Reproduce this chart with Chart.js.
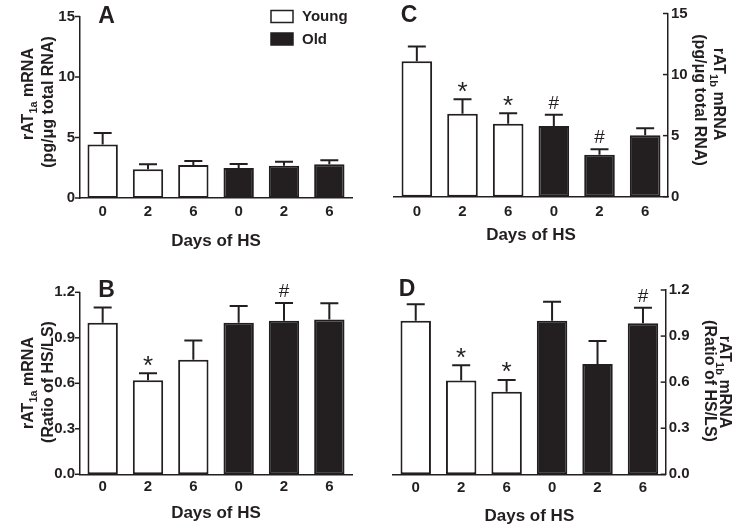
<!DOCTYPE html>
<html>
<head>
<meta charset="utf-8">
<script src="https://cdn.jsdelivr.net/npm/chart.js@4.4.1/dist/chart.umd.min.js"></script>
<style>
  html, body { margin: 0; padding: 0; background: #fff; }
  #wrap { position: relative; width: 746px; height: 529px; }
  canvas { position: absolute; }
</style>
</head>
<body>
<div id="wrap">
  <canvas id="panelA" width="373" height="265" style="left:0;top:0"></canvas>
  <canvas id="panelC" width="373" height="265" style="left:373px;top:0"></canvas>
  <canvas id="panelB" width="373" height="264" style="left:0;top:265px"></canvas>
  <canvas id="panelD" width="373" height="264" style="left:373px;top:265px"></canvas>
</div>
<script>
// categories
const days = ['0', '2', '6', '0', '2', '6'];
const ageGroup = ['Young', 'Young', 'Young', 'Old', 'Old', 'Old'];

// A: rAT1a mRNA (pg/ug total RNA), mean and SEM
const aMean = [4.42, 2.37, 2.72, 2.47, 2.66, 2.78];
const aSem = [0.96, 0.41, 0.33, 0.33, 0.33, 0.35];
const aMarks = ['', '', '', '', '', ''];

// C: rAT1b mRNA (pg/ug total RNA)
const cMean = [11.1, 6.8, 5.98, 5.79, 3.44, 5.03];
const cSem = [1.2, 1.18, 0.85, 0.91, 0.44, 0.57];
const cMarks = ['', '*', '*', '#', '#', ''];

// B: rAT1a mRNA (ratio of HS/LS)
const bMean = [1.0, 0.62, 0.755, 1.0, 1.013, 1.02];
const bSem = [0.10, 0.046, 0.128, 0.11, 0.117, 0.107];
const bMarks = ['', '*', '', '', '#', ''];

// D: rAT1b mRNA (ratio of HS/LS)
const dMean = [1.0, 0.61, 0.538, 1.0, 0.718, 0.983];
const dSem = [0.107, 0.10, 0.076, 0.124, 0.15, 0.102];
const dMarks = ['', '*', '*', '', '', '#'];

// tick labels
const amountTicks = [0, 5, 10, 15];
const ratioTicks = [0, 0.3, 0.6, 0.9, 1.2];

const FONT = "'Liberation Sans', Arial, Helvetica, sans-serif";
const INK = '#231f20';

// draws a line of text with a subscript part, centred on (0,0)
function drawSubText(ctx, parts) {
  let w = 0;
  parts.forEach(p => {
    ctx.font = 'bold ' + p.size + 'px ' + FONT;
    p.w = ctx.measureText(p.t).width;
    w += p.w;
  });
  let x = -w / 2;
  ctx.textAlign = 'left';
  ctx.textBaseline = 'alphabetic';
  parts.forEach(p => {
    ctx.font = 'bold ' + p.size + 'px ' + FONT;
    ctx.fillText(p.t, x, 5.8 + (p.dy || 0));
    x += p.w;
  });
}

const panelPlugin = {
  id: 'panelText',
  afterDatasetsDraw(chart, args, opts) {
    const ctx = chart.ctx;
    const y = chart.scales.y;
    const area = chart.chartArea;
    const meta = chart.getDatasetMeta(0);
    ctx.save();
    ctx.strokeStyle = INK;
    ctx.fillStyle = INK;
    ctx.lineWidth = 2;

    // error bars (upper whisker only) and significance marks
    meta.data.forEach((bar, i) => {
      const top = y.getPixelForValue(opts.mean[i] + opts.sem[i]);
      ctx.beginPath();
      ctx.moveTo(bar.x, bar.y);
      ctx.lineTo(bar.x, top);
      ctx.moveTo(bar.x - 9, top);
      ctx.lineTo(bar.x + 9, top);
      ctx.stroke();
      const mk = opts.marks[i];
      if (mk) {
        ctx.font = (mk === '*' ? '26px ' : '19px ') + FONT;
        ctx.textAlign = 'center';
        ctx.textBaseline = 'alphabetic';
        const m = ctx.measureText(mk);
        const cy = top - 12.5;
        ctx.fillText(mk, bar.x, cy + (m.actualBoundingBoxAscent - m.actualBoundingBoxDescent) / 2);
      }
    });

    // y tick marks, always pointing left of the axis line
    const ax = opts.side === 'right' ? area.right : area.left;
    ctx.lineWidth = 1.5;
    y.ticks.forEach(t => {
      const py = y.getPixelForValue(t.value);
      ctx.beginPath();
      ctx.moveTo(ax - 5, py);
      ctx.lineTo(ax, py);
      ctx.stroke();
    });

    // y axis title in two lines
    const rot = opts.side === 'right' ? Math.PI / 2 : -Math.PI / 2;
    const t = opts.yTitle;
    ctx.save();
    ctx.translate(t.x1, t.y1);
    ctx.rotate(rot);
    drawSubText(ctx, [
      { t: 'rAT', size: 16 },
      { t: t.sub, size: 11, dy: 4 },
      { t: ' mRNA', size: 16 }
    ]);
    ctx.restore();
    ctx.save();
    ctx.translate(t.x2, t.y2);
    ctx.rotate(rot);
    drawSubText(ctx, [{ t: t.unit, size: 16 }]);
    ctx.restore();

    // panel letter
    ctx.font = 'bold 23px ' + FONT;
    ctx.textAlign = 'center';
    ctx.textBaseline = 'alphabetic';
    ctx.fillText(opts.letter.t, opts.letter.x, opts.letter.y + 8.3);

    // legend
    if (opts.legend) {
      const ds = chart.data.datasets[0];
      const seen = [];
      ageGroup.forEach((g, i) => {
        if (seen.includes(g)) return;
        const k = seen.length;
        seen.push(g);
        const by = 10.5 + k * 22.5;
        ctx.fillStyle = ds.backgroundColor[i];
        ctx.fillRect(271, by, 22, 12);
        ctx.lineWidth = 1.5;
        ctx.strokeStyle = INK;
        ctx.strokeRect(271, by, 22, 12);
        ctx.fillStyle = INK;
        ctx.font = 'bold 15px ' + FONT;
        ctx.textAlign = 'left';
        ctx.textBaseline = 'middle';
        ctx.fillText(g, 302, by + 6.5);
      });
    }
    ctx.restore();
  }
};

function makePanel(id, p) {
  const colors = ageGroup.map(g => (g === 'Young' ? '#ffffff' : INK));
  return new Chart(document.getElementById(id), {
    type: 'bar',
    data: {
      labels: days,
      datasets: [{
        data: p.mean,
        backgroundColor: colors,
        borderColor: INK,
        borderWidth: 2,
        borderSkipped: false,
        barPercentage: 0.67,
        categoryPercentage: 1
      }]
    },
    options: {
      responsive: false,
      animation: false,
      devicePixelRatio: 1,
      layout: { padding: p.pad },
      plugins: {
        legend: { display: false },
        tooltip: { enabled: false },
        panelText: {
          mean: p.mean, sem: p.sem, marks: p.marks, side: p.side,
          yTitle: p.yTitle, letter: p.letter, legend: !!p.legend
        }
      },
      scales: {
        x: {
          offset: true,
          grid: { display: false, drawTicks: false },
          border: { display: true, color: INK, width: 1.5 },
          ticks: { color: INK, padding: p.xTickPad, font: { family: FONT, size: 15, weight: 'bold' } },
          title: {
            display: true, text: 'Days of HS', color: INK,
            font: { family: FONT, size: 17, weight: 'bold' },
            padding: { top: 0, bottom: p.titlePad }
          },
          afterFit: s => { s.height = p.xHeight; }
        },
        y: {
          position: p.side,
          min: 0,
          max: p.ticks[p.ticks.length - 1],
          grid: { display: false, drawTicks: false },
          border: { display: true, color: INK, width: 1.5 },
          ticks: {
            color: INK,
            padding: p.side === 'right' ? 3 : 5,
            font: { family: FONT, size: 15, weight: 'bold' },
            callback: v => (p.decimals ? Number(v).toFixed(p.decimals) : String(v))
          },
          afterBuildTicks: s => { s.ticks = p.ticks.map(v => ({ value: v })); },
          afterFit: s => { s.width = p.yWidth; }
        }
      }
    },
    plugins: [panelPlugin]
  });
}

makePanel('panelA', {
  mean: aMean, sem: aSem, marks: aMarks, ticks: amountTicks, decimals: 0,
  side: 'left', pad: { left: 0, right: 21, top: 16.5, bottom: 0 },
  yWidth: 80, xHeight: 67, xTickPad: 4.5, titlePad: 13,
  letter: { t: 'A', x: 106.5, y: 15 },
  yTitle: { sub: '1a', unit: '(pg/\u03bcg total RNA)', x1: 27, y1: 94, x2: 47, y2: 102 },
  legend: true
});

makePanel('panelC', {
  mean: cMean, sem: cSem, marks: cMarks, ticks: amountTicks, decimals: 0,
  side: 'right', pad: { left: 21, right: 0, top: 13.5, bottom: 0 },
  yWidth: 78, xHeight: 68.3, xTickPad: 6, titlePad: 19.8,
  letter: { t: 'C', x: 36, y: 14 },
  yTitle: { sub: '1b', unit: '(pg/\u03bcg total RNA)', x1: 347, y1: 94, x2: 328, y2: 100 }
});

makePanel('panelB', {
  mean: bMean, sem: bSem, marks: bMarks, ticks: ratioTicks, decimals: 1,
  side: 'left', pad: { left: 0, right: 21, top: 27.3, bottom: 0 },
  yWidth: 80, xHeight: 54.7, xTickPad: 3.5, titlePad: 5.5,
  letter: { t: 'B', x: 106.5, y: 24 },
  yTitle: { sub: '1a', unit: '(Ratio of HS/LS)', x1: 27, y1: 118, x2: 47, y2: 117 }
});

makePanel('panelD', {
  mean: dMean, sem: dSem, marks: dMarks, ticks: ratioTicks, decimals: 1,
  side: 'right', pad: { left: 20, right: 0, top: 25, bottom: 0 },
  yWidth: 80.3, xHeight: 54.7, xTickPad: 4.3, titlePad: 2,
  letter: { t: 'D', x: 34, y: 23 },
  yTitle: { sub: '1b', unit: '(Ratio of HS/LS)', x1: 353, y1: 117, x2: 338, y2: 116 }
});
</script>
</body>
</html>
